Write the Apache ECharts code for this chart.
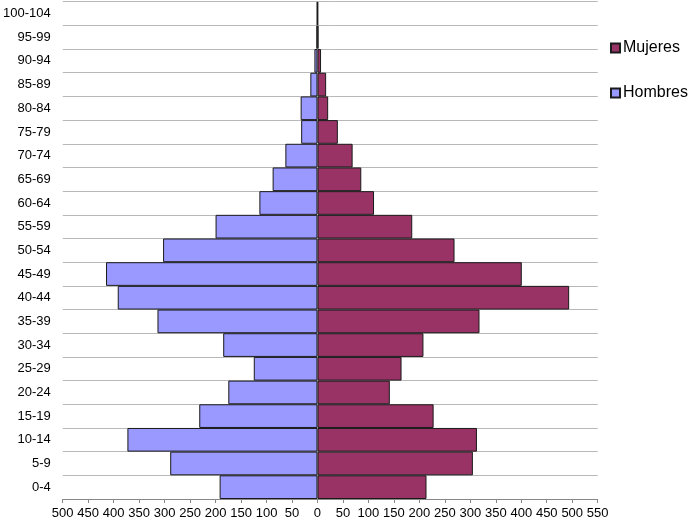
<!DOCTYPE html>
<html>
<head>
<meta charset="utf-8">
<script src="https://cdn.jsdelivr.net/npm/echarts@6/dist/echarts.min.js"></script>
<style>html,body{margin:0;padding:0;background:#fff;}#c{width:696px;height:526px;}</style>
</head>
<body>
<div id="c"></div>
<script>
const categories = ['0-4','5-9','10-14','15-19','20-24','25-29','30-34','35-39','40-44','45-49','50-54','55-59','60-64','65-69','70-74','75-79','80-84','85-89','90-94','95-99','100-104'];
const hombres = [192, 289, 373, 232, 175, 125, 185, 314, 392, 415, 303, 200, 114, 88, 63, 32, 33, 14, 6, 2, 1];
const mujeres = [214, 305, 313, 228, 142, 165, 208, 318, 494, 401, 269, 186, 111, 86, 69, 40, 21, 17, 7, 2, 1];
const xTicks = { min: -500, max: 550, interval: 50 };

const chart = echarts.init(document.getElementById('c'), null, { renderer: 'canvas' });
const font = 'Liberation Sans, Arial, sans-serif';
chart.setOption({
  animation: false,
  textStyle: { fontFamily: font },
  grid: { left: 62.3, right: 98.3, top: 1.7, bottom: 27, containLabel: false },
  legend: {
    orient: 'vertical',
    left: 605, top: 35,
    icon: 'rect',
    itemWidth: 9, itemHeight: 9, itemGap: 29,
    textStyle: { fontFamily: font, fontSize: 16, color: '#000', padding: [0, 0, 0, -2] },
    data: ['Mujeres', 'Hombres']
  },
  xAxis: {
    type: 'value',
    min: xTicks.min, max: xTicks.max, interval: xTicks.interval,
    axisLine: { show: true, lineStyle: { color: '#888', width: 1 } },
    axisTick: { show: true, length: 4, lineStyle: { color: '#888' } },
    splitLine: { show: false },
    axisLabel: { color: '#000', fontSize: 13, fontFamily: font, margin: 8, formatter: v => Math.abs(v) }
  },
  yAxis: {
    type: 'category',
    data: categories,
    axisLine: { show: false },
    axisTick: { show: false },
    splitLine: { show: true, interval: 0, lineStyle: { color: '#b8b8b8', width: 1 } },
    axisLabel: { color: '#000', fontSize: 13, fontFamily: font, margin: 12, interval: 0 }
  },
  series: [
    {
      name: 'Mujeres', type: 'bar', stack: 'p',
      barCategoryGap: '0%',
      itemStyle: { color: '#993366', borderColor: '#1a1a1a', borderWidth: 1 },
      data: mujeres
    },
    {
      name: 'Hombres', type: 'bar', stack: 'p',
      barCategoryGap: '0%',
      itemStyle: { color: '#9999ff', borderColor: '#1a1a1a', borderWidth: 1 },
      data: hombres.map(v => -v)
    }
  ]
});
</script>
</body>
</html>
